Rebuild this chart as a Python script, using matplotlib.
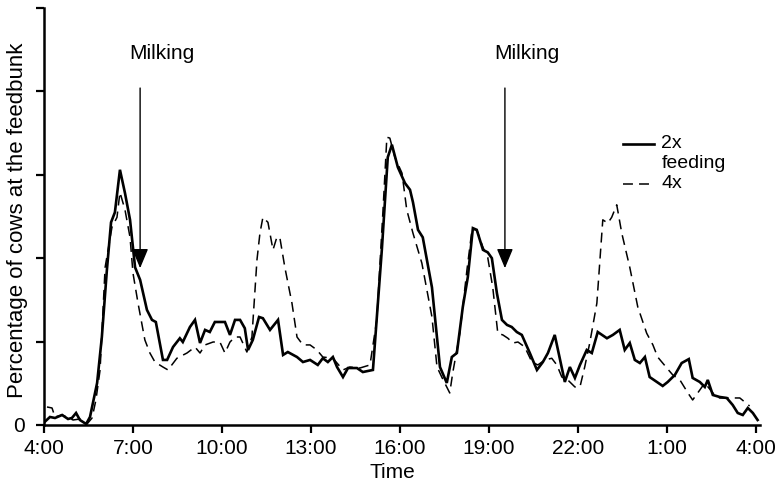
import matplotlib
matplotlib.use("Agg")
import matplotlib.pyplot as plt

plt.rcParams['font.family'] = ['Liberation Sans', 'DejaVu Sans']

# hours after 4:00 and percentage of cows at the feedbunk
t2x = [0.03, 0.20, 0.37, 0.61, 0.81, 0.94, 1.08, 1.21, 1.42, 1.55, 1.65, 1.79, 1.95,
       2.12, 2.26, 2.39, 2.56, 2.73, 2.90, 3.07, 3.24, 3.47, 3.64, 3.77, 4.01, 4.15,
       4.35, 4.58, 4.68, 4.92, 5.09, 5.26, 5.43, 5.59, 5.76, 6.00, 6.10, 6.27, 6.44,
       6.61, 6.77, 6.88, 7.04, 7.25, 7.38, 7.62, 7.89, 8.06, 8.22, 8.53, 8.73, 8.97,
       9.23, 9.40, 9.57, 9.74, 9.88, 10.08, 10.25, 10.55, 10.75, 11.09, 11.39, 11.59,
       11.73, 11.93, 12.17, 12.34, 12.44, 12.61, 12.77, 13.08, 13.35, 13.58, 13.75,
       13.92, 14.12, 14.29, 14.46, 14.59, 14.80, 14.96, 15.10, 15.27, 15.44, 15.61,
       15.77, 15.94, 16.11, 16.38, 16.62, 16.82, 16.99, 17.22, 17.39, 17.56, 17.73,
       17.90, 18.07, 18.30, 18.47, 18.67, 18.98, 19.18, 19.41, 19.58, 19.75, 19.92,
       20.09, 20.26, 20.42, 20.66, 20.86, 21.03, 21.27, 21.50, 21.74, 21.87, 22.11,
       22.28, 22.38, 22.55, 22.78, 23.02, 23.22, 23.39, 23.56, 23.73, 23.90, 24.06]
pct2x = [0.4, 0.96, 0.84, 1.2, 0.72, 0.84, 1.44, 0.6, 0.12, 0.96, 2.64, 5.04, 10.55,
         18.6, 24.3, 25.5, 30.6, 27.8, 24.6, 18.9, 17.4, 13.8, 12.6, 12.35, 7.8, 7.8,
         9.35, 10.4, 9.95, 11.75, 12.6, 9.83, 11.4, 11.15, 12.35, 12.35, 12.35, 10.8,
         12.6, 12.6, 11.6, 9.0, 10.2, 12.95, 12.8, 11.4, 12.6, 8.4, 8.75, 8.15, 7.55,
         7.8, 7.2, 8.0, 7.55, 8.15, 6.95, 5.75, 6.83, 6.83, 6.35, 6.6, 21.0, 32.1,
         33.6, 30.9, 29.0, 28.2, 26.7, 23.4, 22.5, 16.5, 6.95, 5.04, 8.15, 8.63, 14.15,
         17.75, 23.6, 23.4, 21.0, 20.7, 20.0, 15.8, 12.6, 12.0, 11.75, 11.15, 10.8,
         8.63, 6.6, 7.55, 8.63, 10.8, 8.0, 5.16, 6.95, 5.64, 7.2, 9.0, 8.63, 11.15,
         10.4, 10.8, 11.4, 9.0, 9.83, 7.8, 7.43, 8.15, 5.75, 5.16, 4.68, 5.16, 6.0,
         7.43, 7.9, 5.64, 5.16, 4.56, 5.4, 3.6, 3.36, 3.24, 2.4, 1.44, 1.2, 2.04,
         1.44, 0.6]

t4x = [0.10, 0.27, 0.37, 0.61, 0.98, 1.21, 1.45, 1.62, 1.75, 1.89, 2.06, 2.29, 2.46,
       2.56, 2.73, 2.90, 3.00, 3.17, 3.40, 3.57, 3.74, 4.01, 4.18, 4.48, 4.82, 5.09,
       5.26, 5.43, 5.70, 5.93, 6.10, 6.27, 6.44, 6.61, 6.84, 7.01, 7.18, 7.28, 7.38,
       7.55, 7.72, 7.85, 7.95, 8.12, 8.36, 8.53, 8.73, 8.97, 9.20, 9.40, 9.74, 10.08,
       10.31, 10.65, 10.99, 11.22, 11.43, 11.56, 11.66, 11.83, 12.07, 12.23, 12.44,
       12.74, 13.08, 13.25, 13.41, 13.68, 13.78, 14.02, 14.26, 14.43, 14.59, 14.80,
       14.96, 15.13, 15.30, 15.47, 15.64, 15.81, 15.98, 16.21, 16.45, 16.65, 16.89,
       17.12, 17.29, 17.46, 17.66, 17.90, 18.07, 18.23, 18.40, 18.64, 18.84, 19.01,
       19.14, 19.31, 19.48, 19.75, 20.02, 20.32, 20.53, 20.69, 21.00, 21.20, 21.44,
       21.71, 21.87, 22.04, 22.28, 22.55, 22.78, 23.12, 23.46, 23.79]
pct4x = [2.16, 2.04, 0.96, 1.2, 0.6, 0.72, 0.12, 0.84, 3.0, 6.6, 18.9, 23.7, 24.9,
         27.9, 25.8, 22.5, 18.2, 14.6, 10.2, 8.63, 7.55, 6.95, 6.6, 8.0, 8.63, 9.35,
         8.63, 9.6, 9.95, 9.95, 8.63, 9.95, 10.55, 10.55, 8.75, 10.55, 19.8, 23.0,
         24.9, 24.3, 21.0, 22.5, 22.5, 18.9, 14.6, 10.55, 9.6, 9.6, 9.0, 8.15, 8.0,
         6.6, 6.95, 6.83, 7.2, 12.6, 25.8, 34.5, 34.4, 32.1, 30.2, 25.8, 23.0, 19.4,
         12.95, 6.95, 5.75, 3.84, 6.24, 11.0, 18.6, 23.4, 23.4, 21.3, 20.1, 16.5, 11.0,
         10.8, 10.4, 9.83, 9.95, 9.35, 7.55, 7.2, 7.8, 8.0, 7.2, 5.75, 5.4, 4.56, 4.56,
         6.95, 9.83, 14.6, 24.6, 24.2, 24.9, 26.4, 23.0, 18.9, 14.15, 11.0, 9.6, 8.15,
         6.83, 6.0, 5.4, 3.84, 3.0, 3.84, 5.04, 3.84, 3.24, 3.24, 3.24, 2.28]

tick_hours = [0, 3, 6, 9, 12, 15, 18, 21, 24]
tick_labels = ["4:00", "7:00", "10:00", "13:00", "16:00", "19:00", "22:00", "1:00", "4:00"]
milking_hours = [3.24, 15.54]

fig = plt.figure(figsize=(7.75, 4.98), dpi=100)
ax = fig.add_axes([0.0568, 0.1466, 0.9242, 0.8374])

ax.plot(t2x, pct2x, color='black', lw=1.9, solid_joinstyle='miter')
ax.plot(t4x, pct4x, color='black', lw=1.1, dashes=(6.5, 4))

ax.set_xlim(0, 24.15)
ax.set_ylim(0, 50)
ax.set_xticks(tick_hours)
ax.set_xticklabels(tick_labels)
ax.set_yticks([0, 10, 20, 30, 40, 50])
ax.set_yticklabels(["0", "", "", "", "", ""])
ax.tick_params(axis='both', direction='out', length=6, width=1.6, labelsize=15, colors='black')
ax.tick_params(axis='x', pad=4)
ax.tick_params(axis='y', pad=8)
for side in ['top', 'right']:
    ax.spines[side].set_visible(False)
for side in ['left', 'bottom']:
    ax.spines[side].set_linewidth(1.8)

ax.set_xlabel("Time", fontsize=15)
ax.xaxis.set_label_coords(0.487, -0.09)
ax.set_ylabel("Percentage of cows at the feedbunk", fontsize=16)
ax.yaxis.set_label_coords(-0.023, 0.49)

# milking arrows
for h in milking_hours:
    ax.annotate("", xy=(h, 18.8), xytext=(h, 40.4),
                arrowprops=dict(arrowstyle='-|>,head_length=0.6,head_width=0.25',
                                mutation_scale=20, lw=1.0, color='black',
                                shrinkA=0, shrinkB=0))
    ax.text(h + 0.75, 44.6, "Milking", fontsize=15, ha='center', va='center')

# legend drawn by hand
ax.plot([0.809, 0.851], [0.674, 0.674], transform=ax.transAxes, color='black', lw=1.9)
ax.plot([0.809, 0.851], [0.578, 0.578], transform=ax.transAxes, color='black', lw=1.1, dashes=(6.5, 4))
ax.text(0.862, 0.674, "2x", transform=ax.transAxes, fontsize=14, va='center')
ax.text(0.862, 0.626, "feeding", transform=ax.transAxes, fontsize=14, va='center')
ax.text(0.862, 0.578, "4x", transform=ax.transAxes, fontsize=14, va='center')

fig.savefig("out.png", dpi=100)
